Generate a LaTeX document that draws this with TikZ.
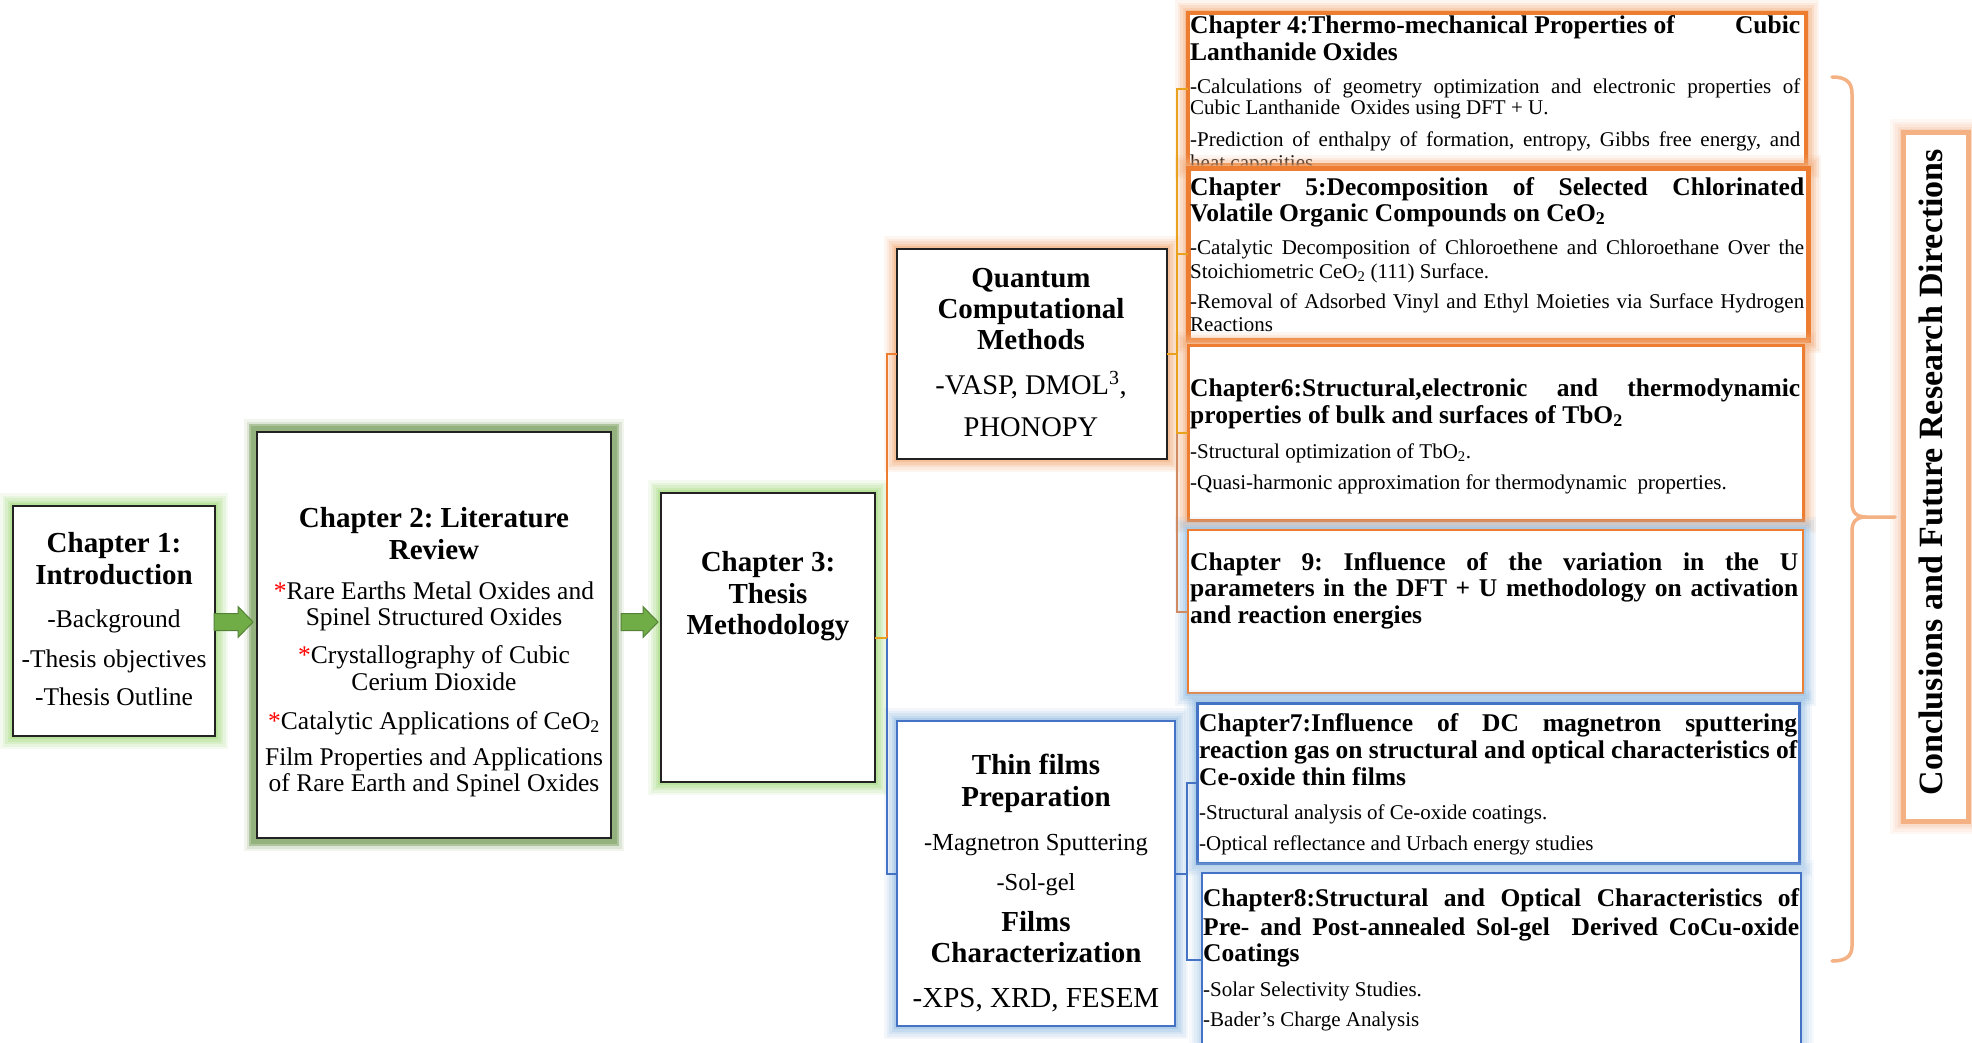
\documentclass[tikz,border=0pt]{standalone}
\usepackage{fontspec}
\setmainfont{Liberation Serif}
\usetikzlibrary{calc}
\definecolor{boxblack}{HTML}{222222}
\definecolor{gLight}{HTML}{A9DC85}
\definecolor{gDark}{HTML}{8DAE76}
\definecolor{arrowgreen}{HTML}{70AD47}
\definecolor{arrowdark}{HTML}{548235}
\definecolor{orng}{HTML}{ED7D31}
\definecolor{orngLight}{HTML}{F4B183}
\definecolor{orngPale}{HTML}{F8CBAD}
\definecolor{goldline}{HTML}{E9A21E}
\definecolor{brownline}{HTML}{D08B63}
\definecolor{blu}{HTML}{4472C4}
\definecolor{bluLight}{HTML}{9DC3E6}
\definecolor{bluPale}{HTML}{BDD7EE}
\newcommand\myT{\fontsize{29}{32}\selectfont\bfseries}
\newcommand\myB{\fontsize{25.5}{28}\selectfont}
\newcommand\myH{\fontsize{25.5}{28}\selectfont\bfseries}
\newcommand\myS{\fontsize{21}{23}\selectfont}
\newcommand\myQ{\fontsize{28.5}{30}\selectfont}
\newcommand\myM{\fontsize{24.5}{26}\selectfont}
\newcommand\myX{\fontsize{29}{30}\selectfont}
\newcommand\myC{\fontsize{34}{36}\selectfont\bfseries}
\newcommand\redast{{\color{red}*}}
\frenchspacing
\begin{document}
\begin{tikzpicture}[x=1pt,y=-1pt,
  box/.style={draw=boxblack, line width=2pt, fill=white, inner sep=0pt, outer sep=0pt},
  glow/.style={preaction={draw=#1, line width=26pt, draw opacity=.12},
               preaction={draw=#1, line width=21pt, draw opacity=.16},
               preaction={draw=#1, line width=16pt, draw opacity=.22},
               preaction={draw=#1, line width=11pt, draw opacity=.3},
               preaction={draw=#1, line width=6pt, draw opacity=.5}},
  dglow/.style={preaction={draw=#1, line width=26pt, draw opacity=.12},
                preaction={draw=#1, line width=21pt, draw opacity=.2},
                preaction={draw=#1, line width=16pt, draw opacity=.6},
                preaction={draw=#1, line width=12pt, draw opacity=.8}},
  tc/.style={inner sep=0pt, anchor=base},
  tl/.style={inner sep=0pt, anchor=base west},
  garrowpath/.style={draw=arrowdark, fill=arrowgreen, line width=1pt, line join=miter},
  oline/.style={draw=orng, line width=2pt},
  bline/.style={draw=blu, line width=2pt},
  gline/.style={draw=goldline, line width=2pt},
  brline/.style={draw=brownline, line width=2pt},
  bracestyle/.style={draw=orngLight, line width=3.5pt, line cap=round}
]
\useasboundingbox (0,0) rectangle (1972,1042);
\fill[white] (0,0) rectangle (1972,1042);

% ---------- Chapter 1 ----------
\node[box, glow=gLight, minimum width=202pt, minimum height=230pt] (ch1) at (114,621) {};
\node[tc,font=\myT] (c1a) at (114,552) {Chapter 1:};
\node[tc,font=\myT] (c1b) at (114,584) {Introduction};
\node[tc,font=\myB] (c1c) at (114,627) {-Background};
\node[tc,font=\myB] (c1d) at (114,667) {-Thesis objectives};
\node[tc,font=\myB] (c1e) at (114,705) {-Thesis Outline};

% ---------- Chapter 2 ----------
\node[box, line width=2.5pt, dglow=gDark, minimum width=354pt, minimum height=406pt] (ch2) at (434,635) {};
\node[tc,font=\myT] (c2a) at (434,527) {Chapter 2: Literature};
\node[tc,font=\myT] (c2b) at (434,559) {Review};
\node[tc,font=\myB] (c2c) at (434,599) {\redast Rare Earths Metal Oxides and};
\node[tc,font=\myB] (c2d) at (434,625.5) {Spinel Structured Oxides};
\node[tc,font=\myB] (c2e) at (434,663) {\redast Crystallography of Cubic};
\node[tc,font=\myB] (c2f) at (434,690) {Cerium Dioxide};
\node[tc,font=\myB] (c2g) at (434,729) {\redast Catalytic Applications of CeO\textsubscript{2}};
\node[tc,font=\myB] (c2h) at (434,765) {Film Properties and Applications};
\node[tc,font=\myB] (c2i) at (434,791.5) {of Rare Earth and Spinel Oxides};

% ---------- Chapter 3 ----------
\node[box, glow=gLight, minimum width=214pt, minimum height=289pt] (ch3) at (768,637.5) {};
\node[tc,font=\myT] (c3a) at (768,571) {Chapter 3:};
\node[tc,font=\myT] (c3b) at (768,603) {Thesis};
\node[tc,font=\myT] (c3c) at (768,634) {Methodology};

% ---------- green block arrows ----------
\coordinate (a1s) at ($(ch1.east)+(-1,1)$);
\coordinate (a1e) at ($(ch2.west |- a1s)+(-4,0)$);
\draw[garrowpath] ($(a1s)+(0,-8.5)$) -- ($(a1e)+(-15,-8.5)$) -- ($(a1e)+(-15,-15.5)$) -- (a1e)
  -- ($(a1e)+(-15,15.5)$) -- ($(a1e)+(-15,8.5)$) -- ($(a1s)+(0,8.5)$) -- cycle;
\coordinate (a2s) at ($(ch2.east)+(10,-13)$);
\coordinate (a2e) at ($(ch3.west |- a2s)+(-3,0)$);
\draw[garrowpath] ($(a2s)+(0,-8.5)$) -- ($(a2e)+(-15,-8.5)$) -- ($(a2e)+(-15,-15.5)$) -- (a2e)
  -- ($(a2e)+(-15,15.5)$) -- ($(a2e)+(-15,8.5)$) -- ($(a2s)+(0,8.5)$) -- cycle;

% ---------- Quantum Computational Methods ----------
\node[box, glow=orngLight, minimum width=270pt, minimum height=210pt] (qcm) at (1032,354) {};
\node[tc,font=\myT] (q1) at (1031,287) {Quantum};
\node[tc,font=\myT] (q2) at (1031,318) {Computational};
\node[tc,font=\myT] (q3) at (1031,349) {Methods};
\node[tc,font=\myQ] (q4) at (1031,394) {-VASP, DMOL\textsuperscript{3},};
\node[tc,font=\myQ] (q5) at (1031,436) {PHONOPY};

% ---------- Thin films ----------
\node[box, draw=blu, line width=2.5pt, glow=bluLight, minimum width=278pt, minimum height=305pt] (tf) at (1036,873.5) {};
\node[tc,font=\myT] (t1) at (1036,774) {Thin films};
\node[tc,font=\myT] (t2) at (1036,806) {Preparation};
\node[tc,font=\myM] (t3) at (1036,850) {-Magnetron Sputtering};
\node[tc,font=\myM] (t4) at (1036,890) {-Sol-gel};
\node[tc,font=\myT] (t5) at (1036,931) {Films};
\node[tc,font=\myT] (t6) at (1036,962) {Characterization};
\node[tc,font=\myX] (t7) at (1036,1007) {-XPS, XRD, FESEM};

% ---------- Chapter 4 ----------
\node[box, draw=orng, line width=3.5pt, glow=orngLight, minimum width=618pt, minimum height=152pt] (ch4) at (1497,89) {};
\node[tl,font=\myH] (c4a) at (1190,33) {\makebox[610pt][s]{Chapter 4:Thermo-mechanical Properties of\hfill Cubic}};
\node[tl,font=\myH] (c4b) at (1190,60) {Lanthanide Oxides};
\node[tl,font=\myS] (c4c) at (1190,93.5) {\makebox[610pt][s]{-Calculations of geometry optimization and electronic properties of}};
\node[tl,font=\myS] (c4d) at (1190,114.5) {Cubic Lanthanide\ \ Oxides using DFT + U.};
\node[tl,font=\myS] (c4e) at (1190,146.5) {\makebox[610pt][s]{-Prediction of enthalpy of formation, entropy, Gibbs free energy, and}};
\node[tl,font=\myS] (c4f) at (1190,169.5) {heat capacities.};

% ---------- Chapter 5 ----------
\node[box, draw=orng, line width=5pt, glow=orngLight, minimum width=620pt, minimum height=172pt] (ch5) at (1498,254) {};
\node[tl,font=\myH] (c5a) at (1190,195) {\makebox[614pt][s]{Chapter 5:Decomposition of Selected Chlorinated}};
\node[tl,font=\myH] (c5b) at (1190,221) {Volatile Organic Compounds on CeO\textsubscript{2}};
\node[tl,font=\myS] (c5c) at (1190,254.5) {\makebox[614pt][s]{-Catalytic Decomposition of Chloroethene and Chloroethane Over the}};
\node[tl,font=\myS] (c5d) at (1190,278.5) {Stoichiometric CeO\textsubscript{2} (111) Surface.};
\node[tl,font=\myS] (c5e) at (1190,308.5) {\makebox[614pt][s]{-Removal of Adsorbed Vinyl and Ethyl Moieties via Surface Hydrogen}};
\node[tl,font=\myS] (c5f) at (1190,331.5) {Reactions};

% ---------- Chapter 6 ----------
\node[box, draw=orng, line width=3pt, glow=orngLight, minimum width=615pt, minimum height=175pt] (ch6) at (1495.5,432.5) {};
\node[tl,font=\myH] (c6a) at (1190,396) {\makebox[610pt][s]{Chapter6:Structural,electronic and thermodynamic}};
\node[tl,font=\myH] (c6b) at (1190,423) {properties of bulk and surfaces of TbO\textsubscript{2}};
\node[tl,font=\myS] (c6c) at (1190,458.5) {-Structural optimization of TbO\textsubscript{2}.};
\node[tl,font=\myS] (c6d) at (1190,489.5) {-Quasi-harmonic approximation for thermodynamic\ \ properties.};

% ---------- Chapter 9 ----------
\node[box, draw=orng, line width=2pt, glow=bluLight, minimum width=615pt, minimum height=163pt] (ch9) at (1495.5,611.5) {};
\node[tl,font=\myH] (c9a) at (1190,570) {\makebox[608pt][s]{Chapter 9: Influence of the variation in the U}};
\node[tl,font=\myH] (c9b) at (1190,596) {\makebox[608pt][s]{parameters in the DFT + U methodology on activation}};
\node[tl,font=\myH] (c9c) at (1190,623) {and reaction energies};

% ---------- Chapter 7 ----------
\node[box, draw=blu, line width=3pt, glow=bluLight, minimum width=602pt, minimum height=160pt] (ch7) at (1498,783) {};
\node[tl,font=\myH] (c7a) at (1199,731) {\makebox[598pt][s]{Chapter7:Influence of DC magnetron sputtering}};
\node[tl,font=\myH] (c7b) at (1199,758) {\makebox[598pt][s]{reaction gas on structural and optical characteristics of}};
\node[tl,font=\myH] (c7c) at (1199,785) {Ce-oxide thin films};
\node[tl,font=\myS] (c7d) at (1199,819.5) {-Structural analysis\ of Ce-oxide coatings.};
\node[tl,font=\myS] (c7e) at (1199,850.5) {-Optical reflectance and Urbach energy studies};

% ---------- Chapter 8 ----------
\node[box, draw=blu, line width=2.5pt, glow=bluPale, minimum width=599pt, minimum height=174pt] (ch8) at (1501.5,960) {};
\node[tl,font=\myH] (c8a) at (1203,906) {\makebox[596pt][s]{Chapter8:Structural and Optical Characteristics of}};
\node[tl,font=\myH] (c8b) at (1203,935) {\makebox[596pt][s]{Pre- and Post-annealed Sol-gel\ \ Derived CoCu-oxide}};
\node[tl,font=\myH] (c8c) at (1203,961) {Coatings};
\node[tl,font=\myS] (c8d) at (1203,996.5) {-Solar Selectivity Studies.};
\node[tl,font=\myS] (c8e) at (1203,1026.5) {-Bader’s Charge Analysis};

% ---------- Conclusions ----------
\node[box, draw=orngLight, line width=5pt, glow=orngPale, minimum width=65pt, minimum height=689pt] (conc) at (1935.5,476.5) {};
\node[font=\myC, rotate=90, anchor=base, inner sep=0pt] (ct) at (1942,472) {Conclusions and Future Research Directions};

% brace
\coordinate (bt) at (1895,517);
\draw[bracestyle] (1832,77) .. controls (1846,77) and (1852,82) .. (1852,94)
  -- (1852,503) .. controls (1852,512) and (1856,517) .. (1866,517) -- (bt);
\draw[bracestyle] (1866,517) .. controls (1856,517) and (1852,522) .. (1852,531)
  -- (1852,946) .. controls (1852,956) and (1846,961) .. (1832,961);

% ---------- connectors ----------
\draw[oline] (ch3.east) -- ++(12,0) coordinate (j1) |- (qcm.west);
\draw[bline] (j1) |- (tf.west);
\draw[gline] (ch3.east) -- (j1);
\draw[gline] (qcm.east) -- ++(10,0) coordinate (j2);
\draw[brline] (j2) |- (ch9.west);
\draw[gline] (j2) |- (ch4.west);
\draw[gline] (j2) |- (ch5.west);
\draw[gline] (j2) |- (ch6.west);
\draw[bline] (tf.east) -- ++(12,0) coordinate (j3) |- (ch7.west);
\draw[bline] (j3) |- (ch8.west);
\end{tikzpicture}
\end{document}
